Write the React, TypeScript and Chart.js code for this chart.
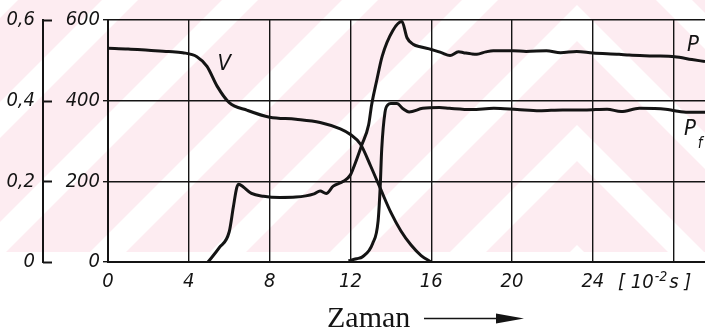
import { useEffect, useRef } from 'react';
import { Chart, registerables } from 'chart.js';

Chart.register(...registerables);

// ---- data ----
const xTicks = [0, 4, 8, 12, 16, 20, 24, 28];
const pTicks = [0, 200, 400, 600];
const vTicks = [0, 0.2, 0.4, 0.6];
const xUnitLabel = ['[ 10', '-2', 's ]'];
const axisTitle = 'Zaman';

const vTime = [0, 1, 2, 3, 3.7, 4.4, 4.9, 5.4, 6.0, 6.9, 8.0, 9.3, 10.5, 11.5, 12.0, 12.5, 13.0, 13.5, 14.0, 14.5, 15.0, 15.5, 16.0];
const vValue = [0.53, 0.528, 0.525, 0.522, 0.519, 0.509, 0.485, 0.436, 0.395, 0.376, 0.359, 0.354, 0.346, 0.33, 0.316, 0.292, 0.238, 0.18, 0.123, 0.077, 0.042, 0.016, 0];

const pTime = [4.95, 5.5, 6.0, 6.2, 6.37, 6.47, 6.7, 7.1, 7.7, 8.5, 9.3, 10.2, 10.5, 10.8, 11.15, 11.65, 12.0, 12.2, 12.56, 12.9, 13.05, 13.3, 13.57, 14.1, 14.55, 14.8, 15.1, 15.5, 16.0, 16.5, 16.93, 17.35, 17.6, 18.0, 18.26, 18.7, 19.07, 20.05, 20.7, 21.7, 22.4, 23.2, 24.0, 25.3, 25.8, 27.0, 28.05, 28.9, 29.55];
const pValue = [0, 35, 75, 135, 184, 193, 186, 170, 163, 160, 161, 169, 176, 170, 188, 200, 216, 240, 290, 340, 390, 450, 510, 574, 596, 556, 540, 533, 527, 519, 512, 521, 519, 516, 515, 521, 524, 524, 522, 524, 519, 522, 518, 515, 513, 511, 509, 502, 497];

const pfTime = [11.9, 12.3, 12.6, 13.1, 13.37, 13.47, 13.55, 13.71, 13.86, 14.0, 14.3, 14.6, 14.9, 15.58, 16.4, 16.9, 18.0, 19.1, 20.25, 21.36, 22.5, 23.6, 24.7, 25.4, 26.3, 27.6, 28.05, 28.7, 29.55];
const pfValue = [3, 8, 13, 46, 102, 183, 281, 371, 390, 393, 393, 380, 372, 381, 383, 381, 378, 381, 378, 375, 377, 377, 379, 373, 381, 379, 375, 371, 371];

const curveLabels = ['V', 'P', 'P', 'f'];

const INK = '#141414';
const PINK = 'rgb(253,236,241)';
const NARROW = "'DejaVu Sans Condensed', 'Liberation Sans', sans-serif";
const SERIF = "'Liberation Serif', 'DejaVu Serif', serif";

const toPoints = (xs: number[], ys: number[]) => xs.map((x, i) => ({ x, y: ys[i] }));

const decorPlugin = {
  id: 'decor',
  beforeDraw(chart: any) {
    const ctx = chart.ctx as CanvasRenderingContext2D;
    const W = chart.width;
    const H = 252;
    const apex = 577;
    const h = 18;
    ctx.save();
    ctx.fillStyle = PINK;
    ctx.fillRect(0, 0, W, H);
    ctx.fillStyle = '#ffffff';
    ctx.save();
    ctx.beginPath();
    ctx.rect(0, 0, apex, H);
    ctx.clip();
    for (let c = -240; c <= 1200; c += 120) {
      ctx.beginPath();
      ctx.moveTo(c - h, 0);
      ctx.lineTo(c + h, 0);
      ctx.lineTo(c + h - H, H);
      ctx.lineTo(c - h - H, H);
      ctx.closePath();
      ctx.fill();
    }
    ctx.restore();
    ctx.save();
    ctx.beginPath();
    ctx.rect(apex, 0, W - apex, H);
    ctx.clip();
    const m = 2 * apex;
    for (let c = -240; c <= 1200; c += 120) {
      ctx.beginPath();
      ctx.moveTo(m - (c - h), 0);
      ctx.lineTo(m - (c + h), 0);
      ctx.lineTo(m - (c + h - H), H);
      ctx.lineTo(m - (c - h - H), H);
      ctx.closePath();
      ctx.fill();
    }
    ctx.restore();
    ctx.restore();
  },
  afterDraw(chart: any) {
    const ctx = chart.ctx as CanvasRenderingContext2D;
    const xs = chart.scales.x;
    const yv = chart.scales.yV;
    const yp = chart.scales.y;
    ctx.save();
    ctx.fillStyle = INK;
    ctx.strokeStyle = INK;
    ctx.lineWidth = 2;
    for (const v of vTicks) {
      const y = Math.round(yv.getPixelForValue(v)) + 0.5;
      ctx.beginPath();
      ctx.moveTo(yv.right, y);
      ctx.lineTo(yv.right + 9, y);
      ctx.stroke();
    }
    ctx.font = `italic 22px ${NARROW}`;
    ctx.textAlign = 'center';
    ctx.textBaseline = 'middle';
    ctx.fillText(curveLabels[0], xs.getPixelForValue(5.75), yp.getPixelForValue(490));
    ctx.fillText(curveLabels[1], 693, yp.getPixelForValue(538));
    ctx.fillText(curveLabels[2], 690, yp.getPixelForValue(328));
    ctx.font = `italic 15px ${NARROW}`;
    ctx.fillText(curveLabels[3], 700, yp.getPixelForValue(292));
    const ly = 283;
    ctx.textAlign = 'left';
    ctx.font = `italic 20px ${NARROW}`;
    let x = 618;
    ctx.fillText(xUnitLabel[0], x, ly);
    x += ctx.measureText(xUnitLabel[0]).width + 1;
    ctx.font = `italic 14px ${NARROW}`;
    ctx.fillText(xUnitLabel[1], x, ly - 6);
    x += ctx.measureText(xUnitLabel[1]).width + 2;
    ctx.font = `italic 20px ${NARROW}`;
    ctx.fillText(xUnitLabel[2], x, ly);
    ctx.font = `30px ${SERIF}`;
    ctx.textBaseline = 'alphabetic';
    ctx.fillText(axisTitle, 327, 327);
    ctx.lineWidth = 1.6;
    ctx.beginPath();
    ctx.moveTo(424, 318.5);
    ctx.lineTo(502, 318.5);
    ctx.stroke();
    ctx.beginPath();
    ctx.moveTo(496, 313.5);
    ctx.lineTo(524, 318.5);
    ctx.lineTo(496, 323.5);
    ctx.closePath();
    ctx.fill();
    ctx.restore();
  },
};

export default function App() {
  const ref = useRef<HTMLCanvasElement | null>(null);
  useEffect(() => {
    if (!ref.current) return;
    const tickFont = { family: NARROW, size: 20, style: 'italic' as const };
    const line = { borderColor: INK, borderWidth: 3, pointRadius: 0, fill: false, cubicInterpolationMode: 'monotone' as const };
    const chart = new Chart(ref.current, {
      type: 'line',
      data: {
        datasets: [
          { label: 'V', data: toPoints(vTime, vValue), yAxisID: 'yV', ...line },
          { label: 'P', data: toPoints(pTime, pValue), yAxisID: 'y', ...line },
          { label: 'Pf', data: toPoints(pfTime, pfValue), yAxisID: 'y', ...line },
        ],
      },
      options: {
        animation: false,
        responsive: false,
        maintainAspectRatio: false,
        layout: { padding: { top: 16, left: 0, right: 0, bottom: 0 }, autoPadding: false },
        plugins: { legend: { display: false }, tooltip: { enabled: false } },
        scales: {
          x: {
            type: 'linear',
            min: 0,
            max: 29.55,
            afterBuildTicks: (s: any) => { s.ticks = xTicks.map((v) => ({ value: v })); },
            ticks: {
              callback: (v: any) => (v === 28 ? '' : String(v)),
              color: INK,
              font: tickFont,
              padding: 8,
              maxRotation: 0,
              autoSkip: false,
            },
            grid: { color: INK, lineWidth: 1.4, drawTicks: false },
            border: { display: true, color: INK, width: 2 },
            afterFit: (s: any) => { s.height = 73; },
          },
          y: {
            type: 'linear',
            position: 'left',
            weight: 0,
            min: 0,
            max: 600,
            afterBuildTicks: (s: any) => { s.ticks = pTicks.map((v) => ({ value: v })); },
            ticks: { color: INK, font: tickFont, padding: 3 },
            grid: { color: INK, lineWidth: 1.4, drawTicks: true, tickLength: 5 },
            border: { display: true, color: INK, width: 2 },
            afterFit: (s: any) => { s.width = 65; },
          },
          yV: {
            type: 'linear',
            position: 'left',
            weight: 1,
            min: 0,
            max: 0.6,
            afterBuildTicks: (s: any) => { s.ticks = vTicks.map((v) => ({ value: v })); },
            ticks: {
              color: INK,
              font: tickFont,
              padding: 8,
              callback: (v: any) => (v === 0 ? '0' : Number(v).toFixed(1).replace('.', ',')),
            },
            grid: { display: false, drawTicks: false },
            border: { display: true, color: INK, width: 2 },
            afterFit: (s: any) => { s.width = 43; },
          },
        },
      },
      plugins: [decorPlugin],
    });
    return () => chart.destroy();
  }, []);
  return (
    <div style={{ position: 'fixed', left: 0, top: 0, width: 705, height: 335, background: '#fff' }}>
      <canvas ref={ref} width={705} height={335} style={{ display: 'block' }} />
    </div>
  );
}
